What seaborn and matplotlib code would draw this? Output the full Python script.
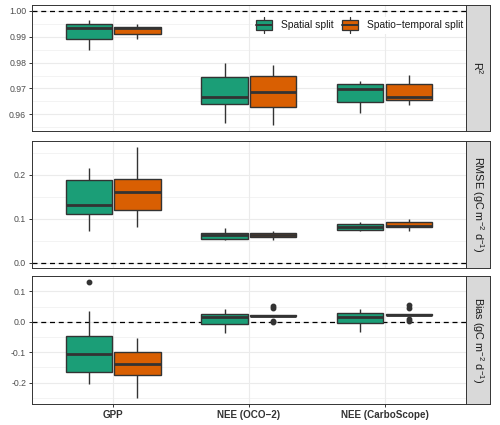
import pandas as pd
import matplotlib
matplotlib.use("Agg")
import matplotlib.pyplot as plt
import seaborn as sns
from matplotlib.patches import Patch, Rectangle
from matplotlib.lines import Line2D
from matplotlib.legend_handler import HandlerBase
from matplotlib.ticker import MultipleLocator, FormatStrFormatter

categories = ["GPP", "NEE (OCO\u22122)", "NEE (CarboScope)"]
splits = ["Spatial split", "Spatio\u2212temporal split"]
colors = ["#1B9E77", "#D95F02"]

# values per target (whiskers, quartiles, median, outliers)
r2_spatial = [
    [0.9847, 0.9892, 0.9935, 0.9949, 0.9963],
    [0.9566, 0.9639, 0.9667, 0.9745, 0.9799],
    [0.9605, 0.9646, 0.9698, 0.9716, 0.9730],
]
r2_temporal = [
    [0.9892, 0.9911, 0.9934, 0.9937, 0.9947],
    [0.9558, 0.9627, 0.9686, 0.9749, 0.9791],
    [0.9638, 0.9654, 0.9666, 0.9716, 0.9752],
]
rmse_spatial = [
    [0.0707, 0.1106, 0.1309, 0.1872, 0.2158],
    [0.0502, 0.0534, 0.0615, 0.0669, 0.0780],
    [0.0705, 0.0743, 0.0804, 0.0878, 0.0910],
]
rmse_temporal = [
    [0.0806, 0.1196, 0.1600, 0.1887, 0.2637],
    [0.0502, 0.0575, 0.0615, 0.0660, 0.0727],
    [0.0714, 0.0804, 0.0840, 0.0923, 0.0984],
]
bias_spatial = [
    [-0.2042, -0.185, -0.1663, -0.13, -0.1063, -0.07, -0.0476, 0.0372, 0.1317],
    [-0.038, -0.0065, 0.0153, 0.0251, 0.0414],
    [-0.0345, -0.003, 0.0174, 0.0304, 0.0435],
]
bias_temporal = [
    [-0.25, -0.175, -0.139, -0.1, -0.0541],
    [0.0, 0.004, 0.0195, 0.0200, 0.0202, 0.0204, 0.0206, 0.0208, 0.0210, 0.0212, 0.0218, 0.045, 0.053],
    [0.002, 0.008, 0.0228, 0.0233, 0.0235, 0.0237, 0.0239, 0.0241, 0.0243, 0.0245, 0.025, 0.047, 0.057],
]


def to_frame(spatial, temporal):
    rows = []
    for split, groups in zip(splits, [spatial, temporal]):
        for cat, vals in zip(categories, groups):
            for v in vals:
                rows.append({"target": cat, "split": split, "value": v})
    return pd.DataFrame(rows)


panels = [
    (to_frame(r2_spatial, r2_temporal), 1.0, 0.01, "%.2f", "R$^2$"),
    (to_frame(rmse_spatial, rmse_temporal), 0.0, 0.1, "%.1f", "RMSE (gC m$^{-2}$ d$^{-1}$)"),
    (to_frame(bias_spatial, bias_temporal), 0.0, 0.1, "%.1f", "Bias (gC m$^{-2}$ d$^{-1}$)"),
]

sns.set_style("white")
plt.rcParams["font.family"] = ["Liberation Sans", "DejaVu Sans"]
plt.rcParams["axes.unicode_minus"] = False
plt.rcParams["mathtext.fontset"] = "custom"
plt.rcParams["mathtext.rm"] = "Liberation Sans"

fig = plt.figure(figsize=(5, 4.25), dpi=100)

# panel boxes in pixels (top, bottom)
rows_px = [(5, 131), (140.7, 268.3), (276, 403.7)]
left, right, strip_r = 31.7, 466, 490

axes = []
for i, (df, hline, step, fmt, label) in enumerate(panels):
    top, bot = rows_px[i]
    ax = fig.add_axes([left / 500, 1 - bot / 425, (right - left) / 500, (bot - top) / 425])
    axes.append(ax)
    sns.boxplot(data=df, x="target", y="value", hue="split", order=categories,
                hue_order=splits, palette=colors, saturation=1, width=0.716, gap=0.05,
                linecolor="#333333", linewidth=1.0, showcaps=False,
                medianprops=dict(linewidth=2.0),
                flierprops=dict(marker="o", markersize=3.2, markerfacecolor="#333333",
                                markeredgecolor="#333333"),
                legend=False, ax=ax)
    ax.axhline(hline, color="black", lw=0.9, ls=(0, (4, 3)), zorder=1.5)

    lo = min(df["value"].min(), hline)
    hi = max(df["value"].max(), hline)
    pad = (hi - lo) * 0.05
    ax.set_ylim(lo - pad, hi + pad)
    ax.set_xlim(-0.6, 2.6)

    ax.yaxis.set_major_locator(MultipleLocator(step))
    ax.yaxis.set_minor_locator(MultipleLocator(step / 2))
    ax.yaxis.set_major_formatter(FormatStrFormatter(fmt))
    ax.set_axisbelow(True)
    ax.grid(which="major", color="#EBEBEB", lw=0.8)
    ax.grid(which="minor", axis="y", color="#EBEBEB", lw=0.4)
    ax.set_xlabel("")
    ax.set_ylabel("")
    for s in ax.spines.values():
        s.set_color("#333333")
        s.set_linewidth(0.7)
    ax.tick_params(axis="y", which="major", left=True, length=2.5, width=0.7,
                   color="#333333", labelsize=6.3, labelcolor="#4D4D4D", pad=1.5)
    ax.tick_params(axis="y", which="minor", left=False)
    if i < 2:
        ax.tick_params(axis="x", bottom=False, labelbottom=False)
    else:
        ax.tick_params(axis="x", bottom=True, length=2.5, width=0.7, color="#333333",
                       labelsize=7.1, labelcolor="#333333", pad=2)
        for t in ax.get_xticklabels():
            t.set_fontweight("bold")

    # facet strip on the right
    sax = fig.add_axes([right / 500, 1 - bot / 425, (strip_r - right) / 500, (bot - top) / 425])
    sax.set_facecolor("#D9D9D9")
    sax.set_xticks([])
    sax.set_yticks([])
    for s in sax.spines.values():
        s.set_color("#333333")
        s.set_linewidth(0.7)
    sax.text(0.5, 0.5, label, rotation=270, ha="center", va="center",
             fontsize=7.8, color="#1A1A1A", transform=sax.transAxes)


class BoxKey(HandlerBase):
    def create_artists(self, legend, orig, xd, yd, w, h, fs, trans):
        x0, y0 = -xd, -yd
        whisk = Line2D([x0 + w / 2] * 2, [y0 - 0.3 * h, y0 + 1.3 * h],
                       color="#333333", lw=0.9, transform=trans)
        box = Rectangle((x0, y0), w, h, facecolor=orig.get_facecolor(),
                        edgecolor="#333333", lw=0.9, transform=trans)
        med = Line2D([x0, x0 + w], [y0 + h / 2] * 2, color="#333333", lw=1.4,
                     transform=trans)
        return [whisk, box, med]


handles = [Patch(facecolor=c) for c in colors]
leg = axes[0].legend(handles, splits, handler_map={Patch: BoxKey()}, ncol=2,
                     loc="upper right", bbox_to_anchor=(1.0, 0.905), borderaxespad=0,
                     frameon=True, facecolor="white", edgecolor="none", framealpha=1,
                     fancybox=False, fontsize=7.4, handlelength=1.6, handleheight=1.1,
                     handletextpad=0.8, columnspacing=0.85, borderpad=0.3)
for t in leg.get_texts():
    t.set_color("#1A1A1A")

fig.savefig("out.png", dpi=100)
